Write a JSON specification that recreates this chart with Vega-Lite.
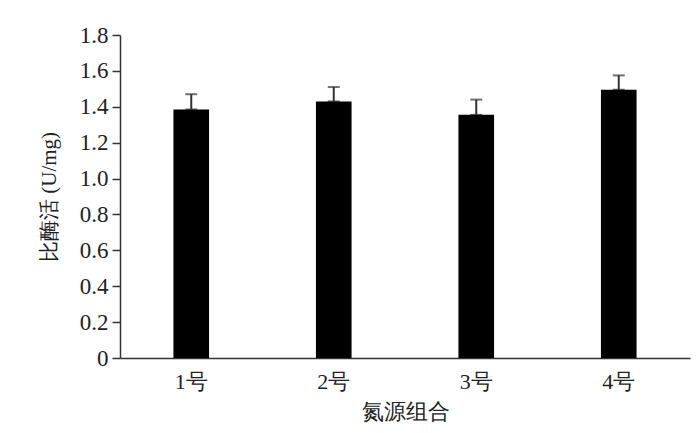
{
  "$schema": "https://vega.github.io/schema/vega-lite/v6.json",
  "width": 580,
  "height": 323,
  "autosize": "none",
  "padding": {"left": 110, "top": 35, "right": 8, "bottom": 75},
  "background": "white",
  "config": {
    "view": {"stroke": null}
  },
  "data": {
    "values": [
      {"group": "1号", "value": 1.385, "upper": 1.47},
      {"group": "2号", "value": 1.43, "upper": 1.51},
      {"group": "3号", "value": 1.355, "upper": 1.44},
      {"group": "4号", "value": 1.495, "upper": 1.575}
    ]
  },
  "encoding": {
    "x": {
      "field": "group",
      "type": "nominal",
      "sort": ["1号", "2号", "3号", "4号"],
      "title": "氮源组合",
      "scale": {"range": [10, 580], "paddingInner": 0.75, "paddingOuter": 0.375},
      "axis": {
        "labelAngle": 0,
        "ticks": false,
        "grid": false,
        "domainColor": "#333333",
        "domainWidth": 1.5,
        "labelColor": "#222222",
        "titleColor": "#222222",
        "labelFont": "Liberation Serif",
        "titleFont": "Liberation Serif",
        "titleFontWeight": "normal",
        "labelFontSize": 22,
        "titleFontSize": 22,
        "labelPadding": 13,
        "titlePadding": 9
      }
    },
    "y": {
      "field": "value",
      "type": "quantitative",
      "title": "比酶活 (U/mg)",
      "scale": {"domain": [0, 1.8], "nice": false},
      "axis": {
        "values": [0, 0.2, 0.4, 0.6, 0.8, 1, 1.2, 1.4, 1.6, 1.8],
        "tickCount": 10,
        "format": ".1f",
        "labelExpr": "datum.value == 0 ? '0' : datum.label",
        "labelOverlap": false,
        "labelFlush": false,
        "grid": false,
        "offset": -10,
        "tickSize": 8,
        "tickWidth": 1.5,
        "tickColor": "#333333",
        "domainColor": "#333333",
        "domainWidth": 1.5,
        "labelColor": "#222222",
        "titleColor": "#222222",
        "labelFont": "Liberation Serif",
        "titleFont": "Liberation Serif",
        "titleFontWeight": "normal",
        "labelFontSize": 23,
        "titleFontSize": 21,
        "labelPadding": 4,
        "titlePadding": 20
      }
    }
  },
  "layer": [
    {
      "mark": {"type": "errorbar", "ticks": {"color": "#333333", "thickness": 2, "size": 12}, "rule": {"color": "#333333", "strokeWidth": 2}},
      "encoding": {
        "y2": {"field": "upper"}
      }
    },
    {
      "mark": {"type": "bar", "color": "#000000"}
    }
  ]
}
